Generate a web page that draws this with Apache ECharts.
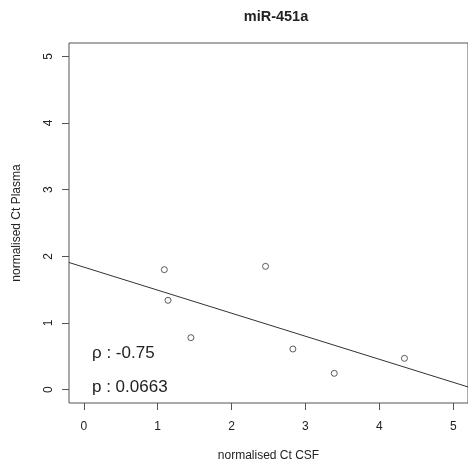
<!DOCTYPE html>
<html>
<head>
<meta charset="utf-8">
<script src="https://cdn.jsdelivr.net/npm/echarts@6/dist/echarts.min.js"></script>
<style>
  html, body { margin: 0; padding: 0; background: #fff; }
  #chart { width: 468px; height: 467px; }
</style>
</head>
<body>
<div id="chart"></div>
<script>
// miR-451a: normalised Ct in CSF vs plasma
const csf    = [1.09, 1.14, 1.45, 2.46, 2.83, 3.39, 4.34];
const plasma = [1.80, 1.34, 0.78, 1.85, 0.61, 0.245, 0.47];
const xTicks = [0, 1, 2, 3, 4, 5];
const yTicks = [0, 1, 2, 3, 4, 5];
const rhoText = 'ρ : -0.75';
const pText = 'p : 0.0663';

// least-squares fit line through the points
function linearFit(xs, ys) {
  const n = xs.length;
  const mx = xs.reduce((a, b) => a + b, 0) / n;
  const my = ys.reduce((a, b) => a + b, 0) / n;
  let sxy = 0, sxx = 0;
  for (let i = 0; i < n; i++) {
    sxy += (xs[i] - mx) * (ys[i] - my);
    sxx += (xs[i] - mx) * (xs[i] - mx);
  }
  const slope = sxy / sxx;
  return { slope, intercept: my - slope * mx };
}
const fit = linearFit(csf, plasma);
const xMin = -0.2, xMax = 5.2, yMin = -0.2, yMax = 5.2;
const fitLine = [xMin, xMax].map(x => [x, fit.intercept + fit.slope * x]);

const font = 'Liberation Sans, Arial, Helvetica, sans-serif';
const ink = '#222';

const chart = echarts.init(document.getElementById('chart'));
chart.setOption({
  animation: false,
  title: {
    text: 'miR-451a',
    left: 271, top: 4, textAlign: 'center',
    textStyle: { fontFamily: font, fontSize: 14.5, fontWeight: 'bold', color: ink }
  },
  grid: {
    left: 69, top: 43, width: 405, height: 360,
    show: true, borderColor: '#555', borderWidth: 1, backgroundColor: '#fff'
  },
  xAxis: {
    type: 'value', min: xMin, max: xMax,
    name: 'normalised Ct CSF', nameLocation: 'middle', nameGap: 47,
    nameTextStyle: { fontFamily: font, fontSize: 12, color: ink },
    axisLine: { show: false, onZero: false },
    splitLine: { show: false },
    axisTick: { show: true, inside: false, length: 7, lineStyle: { color: '#555' }, customValues: xTicks },
    axisLabel: { fontFamily: font, fontSize: 12, color: ink, margin: 18, customValues: xTicks }
  },
  yAxis: {
    type: 'value', min: yMin, max: yMax,
    name: 'normalised Ct Plasma', nameLocation: 'middle', nameGap: 46,
    nameTextStyle: { fontFamily: font, fontSize: 12, color: ink },
    axisLine: { show: false, onZero: false },
    splitLine: { show: false },
    axisTick: { show: true, inside: false, length: 7, lineStyle: { color: '#555' }, customValues: yTicks },
    axisLabel: { fontFamily: font, fontSize: 12, color: ink, margin: 14, rotate: 90, customValues: yTicks }
  },
  series: [
    {
      type: 'line', data: fitLine, showSymbol: false, clip: true,
      lineStyle: { color: '#333', width: 1 }
    },
    {
      type: 'scatter', data: csf.map((x, i) => [x, plasma[i]]),
      symbol: 'circle', symbolSize: 6, z: 3,
      itemStyle: { color: 'rgba(255,255,255,0)', borderColor: '#333', borderWidth: 1 }
    }
  ],
  graphic: [
    { type: 'text', left: 92, top: 345,
      style: { text: rhoText, font: '17px ' + font, fill: ink } },
    { type: 'text', left: 92, top: 379,
      style: { text: pText, font: '17px ' + font, fill: ink } }
  ]
});
</script>
</body>
</html>
